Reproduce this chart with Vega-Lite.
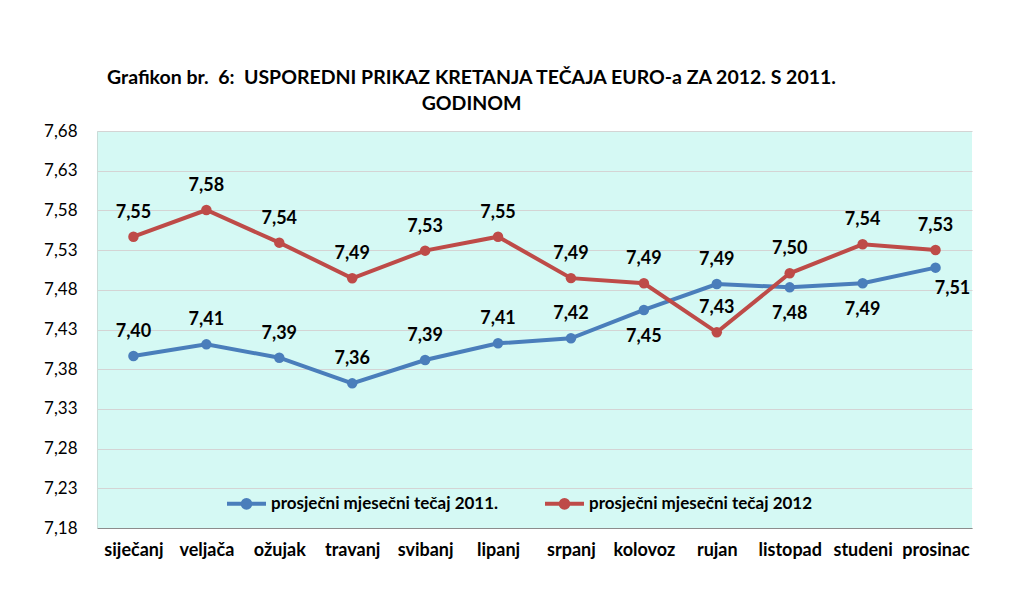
{
  "$schema": "https://vega.github.io/schema/vega-lite/v6.json",
  "autosize": {"type": "none"},
  "width": 875,
  "height": 397,
  "padding": {"left": 97, "top": 131, "right": 40, "bottom": 84},
  "background": "white",
  "config": {
    "locale": {"number": {"decimal": ",", "thousands": ".", "grouping": [3], "currency": ["", " kn"]}},
    "view": {"fill": "#D5F9F4", "stroke": null},
    "font": "Lato"
  },
  "title": {
    "text": ["Grafikon br. \u00a06: \u00a0USPOREDNI PRIKAZ KRETANJA TEČAJA EURO-a ZA 2012. S 2011.", "GODINOM"],
    "font": "Lato",
    "fontSize": 19.5,
    "fontWeight": "bold",
    "color": "#000000",
    "anchor": "middle",
    "dx": -63,
    "lineHeight": 26,
    "offset": 8
  },
  "data": {
    "values": [
      {"mjesec": "siječanj", "serija": "prosječni mjesečni tečaj 2011.", "tecaj": 7.3966},
      {"mjesec": "veljača", "serija": "prosječni mjesečni tečaj 2011.", "tecaj": 7.4113},
      {"mjesec": "ožujak", "serija": "prosječni mjesečni tečaj 2011.", "tecaj": 7.3945},
      {"mjesec": "travanj", "serija": "prosječni mjesečni tečaj 2011.", "tecaj": 7.3622},
      {"mjesec": "svibanj", "serija": "prosječni mjesečni tečaj 2011.", "tecaj": 7.3916},
      {"mjesec": "lipanj", "serija": "prosječni mjesečni tečaj 2011.", "tecaj": 7.4126},
      {"mjesec": "srpanj", "serija": "prosječni mjesečni tečaj 2011.", "tecaj": 7.4189},
      {"mjesec": "kolovoz", "serija": "prosječni mjesečni tečaj 2011.", "tecaj": 7.4546},
      {"mjesec": "rujan", "serija": "prosječni mjesečni tečaj 2011.", "tecaj": 7.4873},
      {"mjesec": "listopad", "serija": "prosječni mjesečni tečaj 2011.", "tecaj": 7.4831},
      {"mjesec": "studeni", "serija": "prosječni mjesečni tečaj 2011.", "tecaj": 7.4882},
      {"mjesec": "prosinac", "serija": "prosječni mjesečni tečaj 2011.", "tecaj": 7.5079},
      {"mjesec": "siječanj", "serija": "prosječni mjesečni tečaj 2012", "tecaj": 7.5469},
      {"mjesec": "veljača", "serija": "prosječni mjesečni tečaj 2012", "tecaj": 7.5805},
      {"mjesec": "ožujak", "serija": "prosječni mjesečni tečaj 2012", "tecaj": 7.5394},
      {"mjesec": "travanj", "serija": "prosječni mjesečni tečaj 2012", "tecaj": 7.4945},
      {"mjesec": "svibanj", "serija": "prosječni mjesečni tečaj 2012", "tecaj": 7.5293},
      {"mjesec": "lipanj", "serija": "prosječni mjesečni tečaj 2012", "tecaj": 7.5469},
      {"mjesec": "srpanj", "serija": "prosječni mjesečni tečaj 2012", "tecaj": 7.4947},
      {"mjesec": "kolovoz", "serija": "prosječni mjesečni tečaj 2012", "tecaj": 7.4882},
      {"mjesec": "rujan", "serija": "prosječni mjesečni tečaj 2012", "tecaj": 7.4264},
      {"mjesec": "listopad", "serija": "prosječni mjesečni tečaj 2012", "tecaj": 7.5008},
      {"mjesec": "studeni", "serija": "prosječni mjesečni tečaj 2012", "tecaj": 7.5373},
      {"mjesec": "prosinac", "serija": "prosječni mjesečni tečaj 2012", "tecaj": 7.5301}
    ]
  },
  "encoding": {
    "x": {
      "field": "mjesec",
      "type": "nominal",
      "sort": ["siječanj", "veljača", "ožujak", "travanj", "svibanj", "lipanj", "srpanj", "kolovoz", "rujan", "listopad", "studeni", "prosinac"],
      "scale": {"type": "point", "padding": 0.5},
      "axis": {
        "title": null,
        "labelAngle": 0,
        "labelFont": "Lato",
        "labelFontSize": 18,
        "labelFontWeight": "bold",
        "labelColor": "#000000",
        "labelPadding": 13,
        "ticks": false,
        "domainColor": "#8C8C8C",
        "domainWidth": 1,
        "grid": false
      }
    },
    "y": {
      "field": "tecaj",
      "type": "quantitative",
      "scale": {"domain": [7.18, 7.68], "nice": false, "zero": false},
      "axis": {
        "title": null,
        "values": [7.18, 7.23, 7.28, 7.33, 7.38, 7.43, 7.48, 7.53, 7.58, 7.63, 7.68],
        "format": ".2f",
        "labelFont": "Lato",
        "labelFontSize": 17,
        "labelColor": "#000000",
        "labelPadding": 20,
        "ticks": false,
        "domainColor": "#C8DCD8",
        "grid": true,
        "gridColor": "#D4D4D4",
        "gridWidth": 1.2
      }
    },
    "color": {
      "field": "serija",
      "type": "nominal",
      "scale": {"domain": ["prosječni mjesečni tečaj 2011.", "prosječni mjesečni tečaj 2012"], "range": ["#4A7EBB", "#BE4B48"]},
      "legend": {
        "title": null,
        "orient": "none",
        "direction": "horizontal",
        "legendX": 128,
        "legendY": 351,
        "padding": 0,
        "columnPadding": 38,
        "labelFont": "Lato",
        "labelFontSize": 17,
        "labelFontWeight": "bold",
        "labelColor": "#000000",
        "labelLimit": 0,
        "labelOffset": 3,
        "symbolType": "M-1,0L1,0M0.2,0A0.2,0.2,0,1,1,-0.2,0A0.2,0.2,0,1,1,0.2,0Z",
        "symbolSize": 1521,
        "symbolStrokeWidth": 4,
        "symbolOpacity": 1
      }
    }
  },
  "layer": [
    {"mark": {"type": "line", "strokeWidth": 4}},
    {"mark": {"type": "point", "filled": true, "size": 110, "opacity": 1}},
    {
      "transform": [{"filter": "!(datum.serija == 'prosječni mjesečni tečaj 2011.' && indexof(['kolovoz','listopad','studeni','prosinac'], datum.mjesec) >= 0)"}],
      "mark": {"type": "text", "dy": -24, "font": "Lato", "fontSize": 18, "fontWeight": "bold", "baseline": "middle"},
      "encoding": {"text": {"field": "tecaj", "type": "quantitative", "format": ".2f"}, "color": {"value": "#000000"}}
    },
    {
      "transform": [{"filter": "datum.serija == 'prosječni mjesečni tečaj 2011.' && indexof(['kolovoz','listopad','studeni'], datum.mjesec) >= 0"}],
      "mark": {"type": "text", "dy": 27, "font": "Lato", "fontSize": 18, "fontWeight": "bold", "baseline": "middle"},
      "encoding": {"text": {"field": "tecaj", "type": "quantitative", "format": ".2f"}, "color": {"value": "#000000"}}
    },
    {
      "transform": [{"filter": "datum.serija == 'prosječni mjesečni tečaj 2011.' && datum.mjesec == 'prosinac'"}],
      "mark": {"type": "text", "dy": 21, "dx": 17, "font": "Lato", "fontSize": 18, "fontWeight": "bold", "baseline": "middle"},
      "encoding": {"text": {"field": "tecaj", "type": "quantitative", "format": ".2f"}, "color": {"value": "#000000"}}
    }
  ]
}
